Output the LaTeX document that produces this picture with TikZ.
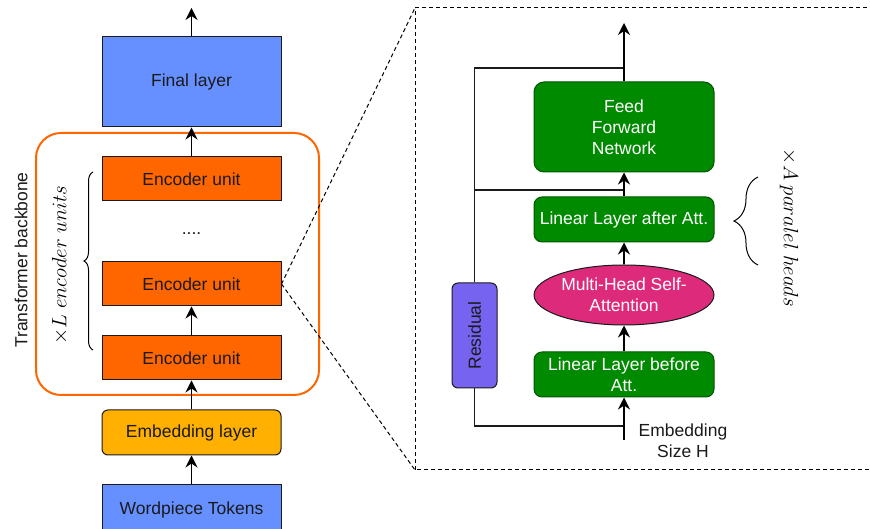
\documentclass[tikz,border=0pt]{standalone}
\usepackage{fontspec}
\setmainfont{Liberation Sans}
\usetikzlibrary{arrows.meta,shapes.geometric,decorations.pathreplacing}

\definecolor{layerblue}{HTML}{6690FF}
\definecolor{encorange}{HTML}{FF6600}
\definecolor{embyellow}{HTML}{FFB000}
\definecolor{blockgreen}{HTML}{008A00}
\definecolor{blockgreenline}{HTML}{005700}
\definecolor{attpink}{HTML}{DD2A7B}
\definecolor{resviolet}{HTML}{7663EF}
\definecolor{inkgray}{HTML}{1A1A1A}

\begin{document}
\begin{tikzpicture}[x=1pt,y=1pt,
  txt/.style={font=\fontsize{17.5}{21}\selectfont, text=inkgray},
  mathlabel/.style={font=\fontsize{20}{24}\selectfont, text=black},
  layerbox/.style={txt, draw=inkgray, line width=1pt, minimum width=179pt, inner sep=2pt},
  bluebox/.style={layerbox, fill=layerblue},
  encbox/.style={layerbox, fill=encorange, minimum height=44pt},
  embbox/.style={layerbox, fill=embyellow, minimum height=45pt, rounded corners=6pt},
  backbone/.style={draw=encorange, line width=2pt, rounded corners=25pt},
  greenbox/.style={txt, text=white, draw=blockgreenline, line width=1pt, fill=blockgreen,
    rounded corners=8pt, minimum width=180pt, align=center, inner sep=2pt},
  attbox/.style={txt, text=white, ellipse, draw=inkgray, line width=1pt, fill=attpink,
    minimum width=180pt, minimum height=60pt, inner sep=0pt, align=center},
  resbox/.style={txt, draw=inkgray, line width=1pt, fill=resviolet, rounded corners=6pt,
    minimum width=45pt, minimum height=105pt, inner sep=0pt},
  arr/.style={line width=1.2pt, draw=black, -{Stealth[length=12pt,width=12pt,inset=4pt]}},
  wire/.style={line width=1.2pt, draw=inkgray},
  zoomline/.style={line width=1pt, dash pattern=on 4pt off 3pt},
  lbrace/.style={decorate, decoration={brace, amplitude=9pt}, line width=1pt},
  rbrace/.style={decorate, decoration={brace, amplitude=24pt}, line width=1pt}
]
\useasboundingbox (0,0) rectangle (870,529);
\clip (0,0) rectangle (870,529);

% ---------- encoder stack ----------
\node[backbone, minimum width=283pt, minimum height=262pt] (bb) at (177.5,265) {};
\node[txt, rotate=90] (bblabel) at (21,269) {Transformer backbone};

\node[bluebox, minimum height=90pt] (final) at (191.5,447) {Final layer};
\node[encbox] (enc1) at (191.5,350) {Encoder unit};
\node[txt] (dots) at (191.5,295) {....};
\node[encbox] (enc2) at (191.5,245) {Encoder unit};
\node[encbox] (enc3) at (191.5,171) {Encoder unit};
\node[embbox] (emb) at (191.5,96.5) {Embedding layer};
\node[bluebox, minimum height=50pt] (tok) at (191.5,19) {Wordpiece Tokens};
\coordinate (out) at (191.5,521);

\draw[arr] (tok) -- (emb);
\draw[arr] (emb) -- (enc3);
\draw[arr] (enc3) -- (enc2);
\draw[arr] (enc1) -- (final);
\draw[arr] (final) -- (out);

\draw[lbrace] (93,179) -- (93,357);
\node[mathlabel, rotate=90] (lunits) at (60,264) {$\times L\ encoder\ units$};

% ---------- detail of one encoder unit ----------
\coordinate (ptop) at (415,521);
\coordinate (pbot) at (415,59);
\draw[zoomline] (pbot) rectangle (880,521);
\draw[zoomline] (enc2.east) -- (ptop);
\draw[zoomline] (enc2.east) -- (pbot);

\node[greenbox, minimum height=90pt, rounded corners=10pt] (ffn) at (624,402) {Feed\\Forward\\Network};
\node[greenbox, minimum height=45pt] (lafter) at (624,309.5) {Linear Layer after Att.};
\node[attbox] (mhsa) at (624,234) {Multi-Head Self-\\Attention};
\node[greenbox, minimum height=45pt] (lbefore) at (624,154.5) {Linear Layer before\\Att.};
\node[resbox] (res) at (474.5,193.5) {\rotatebox{90}{Residual}};

\coordinate (in) at (624,89);
\coordinate (outr) at (624,506);
\coordinate (bj) at (624,103);
\coordinate (mj) at (624,339);
\coordinate (tj) at (624,461);

\draw[wire] (bj) -| (res.south);
\draw[wire] (res.north) -- (res.north |- tj) -- (tj);
\draw[wire] (res.north |- mj) -- (mj);

\draw[arr] (in) -- (lbefore);
\draw[arr] (lbefore) -- (mhsa);
\draw[arr] (mhsa) -- (lafter);
\draw[arr] (lafter) -- (ffn);
\draw[arr] (ffn) -- (outr);

\node[txt, align=center] (esize) at (683,88) {Embedding\\Size H};

\draw[rbrace] (758,264) -- (758,352);
\node[mathlabel, rotate=-90] (aheads) at (789,301) {$\times A\ paralel\ heads$};
\end{tikzpicture}
\end{document}
